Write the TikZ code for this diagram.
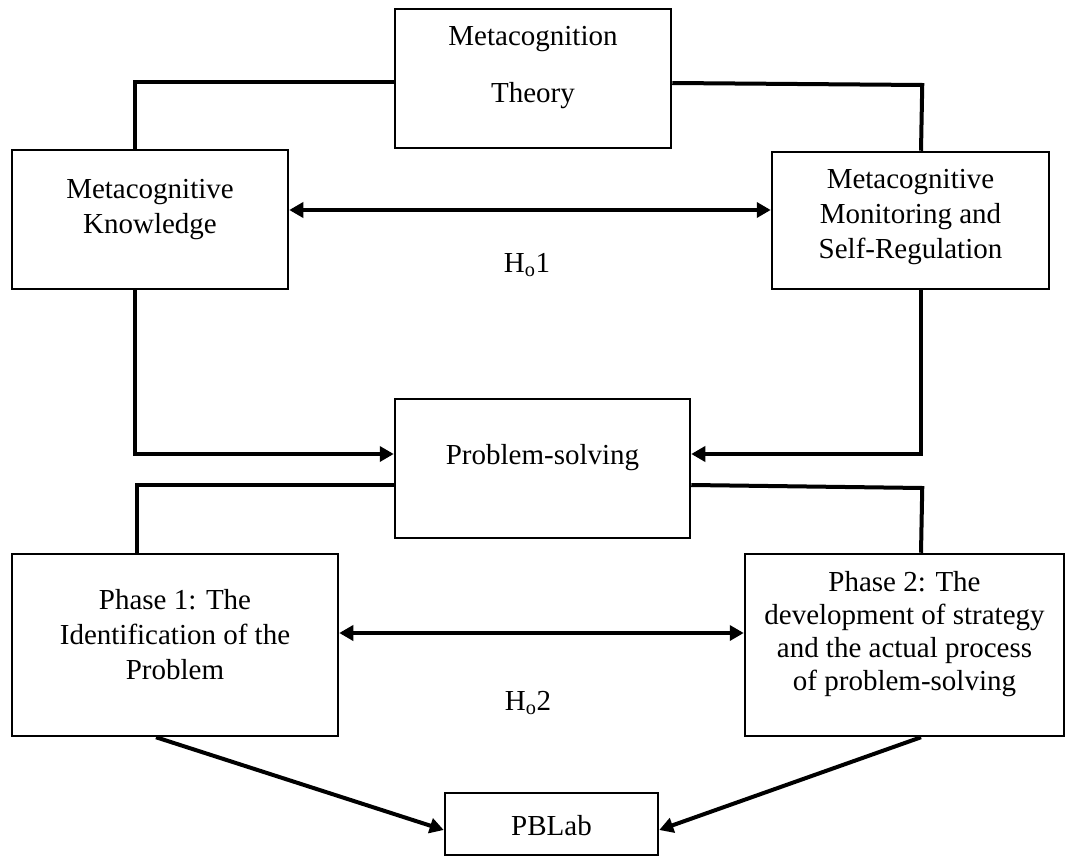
\documentclass[tikz,border=0pt]{standalone}
\usepackage{fontspec}
\setmainfont{Liberation Serif}
\usetikzlibrary{arrows.meta}
\begin{document}
\begin{tikzpicture}[x=1pt,y=-1pt,
  box/.style={draw=black, line width=2.5pt, rectangle, inner sep=0pt},
  txt/.style={inner sep=0pt, align=center, font=\fontsize{29}{35}\selectfont},
  conn/.style={line width=4pt},
  arr/.style={line width=4pt, -{Triangle[length=14pt,width=15pt]}},
  dbl/.style={line width=4pt, {Triangle[length=14pt,width=15pt]}-{Triangle[length=14pt,width=15pt]}}
]
\useasboundingbox (0,0) rectangle (1066,856);
% boxes
\node[box, minimum width=276pt, minimum height=139pt] (th) at (533,78.5) {};
\node[box, minimum width=276pt, minimum height=139pt] (mk) at (150,219.5) {};
\node[box, minimum width=277pt, minimum height=137pt] (mm) at (910.5,220.5) {};
\node[box, minimum width=295pt, minimum height=139pt] (ps) at (542.5,468.5) {};
\node[box, minimum width=326pt, minimum height=182pt] (p1) at (175,645) {};
\node[box, minimum width=319pt, minimum height=182pt] (p2) at (904.5,645) {};
\node[box, minimum width=213pt, minimum height=62pt] (pb) at (551.5,824) {};
% texts
\node[txt] (tht) at (533,68) {Metacognition\\[22pt]Theory};
\node[txt] (mkt) at (150,210) {Metacognitive\\Knowledge};
\node[txt] (mmt) at (910.5,217) {Metacognitive\\Monitoring and\\Self-Regulation};
\node[txt] (pst) at (542.5,458) {Problem-solving};
\node[txt] (p1t) at (175,635) {Phase 1: The\\Identification of the\\Problem};
\node[txt, font=\fontsize{29}{33}\selectfont] (p2t) at (904.5,634) {Phase 2: The\\development of strategy\\and the actual process\\of problem-solving};
\node[txt] (pbt) at (551.5,826) {PBLab};
\node[txt] (h1) at (527,265) {H\textsubscript{o}1};
\node[txt] (h2) at (528,703) {H\textsubscript{o}2};
% connectors
\draw[conn] ([yshift=-4pt]th.west) -| ([xshift=-15pt]mk.north);
\draw[conn] ([yshift=-4.5pt]th.east) -- ++(250,2) -- ([xshift=10.5pt]mm.north);
\draw[dbl] ([yshift=9.5pt]mk.east) -- ([yshift=10.5pt]mm.west);
\draw[arr] ([xshift=-15pt]mk.south) |- ([yshift=14.5pt]ps.west);
\draw[arr] ([xshift=10.5pt]mm.south) |- ([yshift=14.5pt]ps.east);
\draw[conn] ([yshift=-16.5pt]ps.west) -| ([xshift=-38pt]p1.north);
\draw[conn] ([yshift=-16.5pt]ps.east) -- ++(231,3) -- ([xshift=16.5pt]p2.north);
\draw[dbl] ([yshift=12pt]p1.east) -- ([yshift=12pt]p2.west);
\draw[arr] ([xshift=-19pt]p1.south) -- ([yshift=-6pt]pb.west);
\draw[arr] ([xshift=16.5pt]p2.south) -- ([yshift=-6pt]pb.east);
\end{tikzpicture}
\end{document}
